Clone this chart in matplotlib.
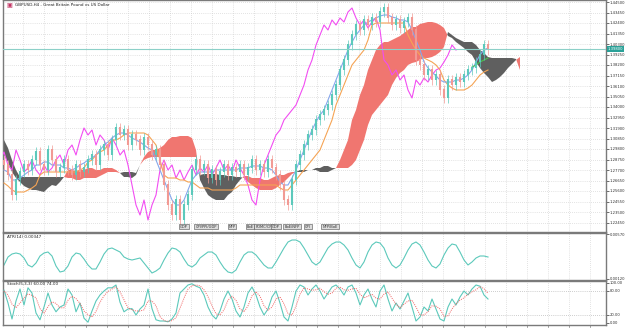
#!/usr/bin/env python

"""
GBPUSD H4 with Ichimoku cloud, ATR(14) and Stochastic(5,3,3) panels,
drawn in the look of a MetaTrader chart window.
"""

import matplotlib.pyplot as plt
import matplotlib.transforms as mtransforms
import numpy as np

# ---- data (one value per 4 px column) ----
closes = [
    1.282, 1.272, 1.252, 1.267, 1.275, 1.282, 1.277, 1.287, 1.295, 1.282,
    1.277, 1.297, 1.287, 1.275, 1.279, 1.287, 1.277, 1.272, 1.282, 1.275,
    1.279, 1.287, 1.292, 1.282, 1.297, 1.302, 1.292, 1.307, 1.319, 1.312,
    1.317, 1.302, 1.312, 1.307, 1.297, 1.309, 1.302, 1.292, 1.297, 1.282,
    1.262, 1.242, 1.232, 1.247, 1.227, 1.242, 1.252, 1.277, 1.287, 1.277,
    1.282, 1.269, 1.277, 1.267, 1.275, 1.282, 1.272, 1.279, 1.275, 1.282,
    1.272, 1.279, 1.287, 1.277, 1.282, 1.275, 1.287, 1.279, 1.272, 1.262,
    1.247, 1.242, 1.267, 1.282, 1.292, 1.302, 1.312, 1.317, 1.327, 1.332,
    1.337, 1.342, 1.352, 1.362, 1.377, 1.387, 1.402, 1.412, 1.422, 1.417,
    1.427, 1.422, 1.429, 1.425, 1.435, 1.439, 1.429, 1.422, 1.427, 1.419,
    1.425, 1.429, 1.417, 1.387, 1.382, 1.372, 1.377, 1.367, 1.372, 1.357,
    1.349, 1.367, 1.362, 1.369, 1.365, 1.372, 1.377, 1.379, 1.385, 1.392,
    1.402, 1.397,
]

tenkan = [
    1.277, 1.275, 1.267, 1.267, 1.269, 1.272, 1.275, 1.277, 1.282, 1.282,
    1.285, 1.285, 1.282, 1.282, 1.282, 1.279, 1.279, 1.277, 1.279, 1.282,
    1.284, 1.287, 1.289, 1.292, 1.297, 1.302, 1.305, 1.309, 1.312, 1.314,
    1.314, 1.312, 1.309, 1.307, 1.305, 1.302, 1.299, 1.297, 1.287, 1.277,
    1.267, 1.257, 1.247, 1.242, 1.242, 1.247, 1.257, 1.267, 1.272, 1.275,
    1.275, 1.275, 1.275, 1.277, 1.277, 1.277, 1.277, 1.277, 1.277, 1.279,
    1.279, 1.279, 1.281, 1.281, 1.281, 1.279, 1.279, 1.277, 1.272, 1.265,
    1.262, 1.262, 1.269, 1.277, 1.287, 1.297, 1.307, 1.317, 1.325, 1.332,
    1.337, 1.347, 1.357, 1.367, 1.377, 1.387, 1.397, 1.405, 1.412, 1.417,
    1.422, 1.425, 1.427, 1.429, 1.431, 1.432, 1.432, 1.430, 1.429, 1.427,
    1.427, 1.425, 1.417, 1.407, 1.397, 1.385, 1.379, 1.375, 1.371, 1.367,
    1.365, 1.365, 1.365, 1.367, 1.367, 1.369, 1.372, 1.377, 1.385, 1.392,
    1.397, 1.399,
]

kijun = [
    1.264, 1.261, 1.257, 1.255, 1.255, 1.255, 1.257, 1.259, 1.262, 1.272,
    1.275, 1.275, 1.275, 1.275, 1.275, 1.275, 1.275, 1.275, 1.275, 1.277,
    1.279, 1.285, 1.287, 1.292, 1.295, 1.297, 1.302, 1.307, 1.307, 1.309,
    1.312, 1.314, 1.314, 1.314, 1.314, 1.314, 1.312, 1.307, 1.302, 1.287,
    1.272, 1.269, 1.269, 1.269, 1.267, 1.267, 1.265, 1.265, 1.262, 1.259,
    1.259, 1.259, 1.257, 1.257, 1.257, 1.257, 1.257, 1.257, 1.259, 1.262,
    1.262, 1.262, 1.262, 1.262, 1.262, 1.262, 1.262, 1.262, 1.262, 1.259,
    1.257, 1.257, 1.262, 1.267, 1.272, 1.277, 1.282, 1.287, 1.292, 1.297,
    1.307, 1.317, 1.327, 1.342, 1.352, 1.362, 1.372, 1.382, 1.387, 1.392,
    1.397, 1.407, 1.422, 1.424, 1.424, 1.424, 1.424, 1.424, 1.424, 1.424,
    1.424, 1.412, 1.404, 1.397, 1.392, 1.389, 1.387, 1.385, 1.382, 1.377,
    1.367, 1.362, 1.359, 1.357, 1.357, 1.357, 1.359, 1.362, 1.367, 1.372,
    1.375, 1.377,
]

# short green line near the last bars
signal_line = [1.380, 1.382, 1.385, 1.387, 1.389]

# cloud spans, 8 columns longer than price (shifted forward)
span_a = [
    1.292, 1.285, 1.275, 1.269, 1.265, 1.261, 1.259, 1.257, 1.257, 1.256,
    1.255, 1.259, 1.262, 1.261, 1.265, 1.270, 1.277, 1.277, 1.276, 1.277,
    1.277, 1.279, 1.279, 1.277, 1.277, 1.279, 1.279, 1.279, 1.277, 1.274,
    1.270, 1.270, 1.269, 1.272, 1.282, 1.290, 1.295, 1.297, 1.297, 1.299,
    1.302, 1.307, 1.310, 1.310, 1.311, 1.311, 1.311, 1.309, 1.297, 1.267,
    1.259, 1.252, 1.249, 1.247, 1.247, 1.247, 1.252, 1.255, 1.262, 1.267,
    1.271, 1.271, 1.269, 1.269, 1.269, 1.267, 1.267, 1.269, 1.271, 1.272,
    1.272, 1.274, 1.275, 1.275, 1.275, 1.275, 1.277, 1.277, 1.277, 1.275,
    1.275, 1.275, 1.277, 1.279, 1.287, 1.297, 1.307, 1.327, 1.337, 1.352,
    1.362, 1.377, 1.387, 1.397, 1.402, 1.405, 1.405, 1.407, 1.409, 1.411,
    1.414, 1.417, 1.420, 1.420, 1.423, 1.424, 1.425, 1.425, 1.424, 1.422,
    1.419, 1.411, 1.409, 1.405, 1.402, 1.399, 1.395, 1.392, 1.385, 1.379,
    1.374, 1.370, 1.365, 1.367, 1.370, 1.374, 1.379, 1.383, 1.387, 1.390,
]
span_b = [
    1.307, 1.299, 1.287, 1.277, 1.270, 1.270, 1.270, 1.270, 1.270, 1.270,
    1.270, 1.270, 1.270, 1.270, 1.270, 1.270, 1.269, 1.269, 1.267, 1.267,
    1.269, 1.269, 1.269, 1.269, 1.271, 1.273, 1.275, 1.275, 1.275, 1.274,
    1.275, 1.275, 1.275, 1.274, 1.282, 1.287, 1.289, 1.290, 1.290, 1.290,
    1.290, 1.290, 1.290, 1.290, 1.290, 1.290, 1.290, 1.290, 1.290, 1.272,
    1.273, 1.273, 1.273, 1.273, 1.272, 1.272, 1.271, 1.271, 1.270, 1.270,
    1.269, 1.265, 1.262, 1.259, 1.257, 1.257, 1.257, 1.257, 1.259, 1.262,
    1.265, 1.269, 1.273, 1.275, 1.277, 1.277, 1.277, 1.277, 1.279, 1.279,
    1.281, 1.281, 1.279, 1.279, 1.279, 1.279, 1.279, 1.282, 1.287, 1.297,
    1.307, 1.322, 1.332, 1.337, 1.342, 1.347, 1.352, 1.362, 1.369, 1.374,
    1.377, 1.382, 1.384, 1.385, 1.387, 1.389, 1.389, 1.390, 1.392, 1.395,
    1.400, 1.415, 1.412, 1.409, 1.407, 1.405, 1.405, 1.405, 1.402, 1.397,
    1.394, 1.390, 1.389, 1.389, 1.389, 1.389, 1.389, 1.389, 1.388, 1.377,
]

atr = [
    0.0026, 0.0034, 0.0037, 0.0038, 0.0037, 0.0033, 0.0026, 0.0024, 0.0028, 0.0035,
    0.0038, 0.0039, 0.0035, 0.0025, 0.0019, 0.0020, 0.0025, 0.0034, 0.0038, 0.0037,
    0.0032, 0.0026, 0.0022, 0.0022, 0.0029, 0.0037, 0.0042, 0.0043, 0.0041, 0.0039,
    0.0034, 0.0032, 0.0031, 0.0032, 0.0033, 0.0028, 0.0023, 0.0018, 0.0020, 0.0023,
    0.0031, 0.0038, 0.0043, 0.0042, 0.0039, 0.0032, 0.0026, 0.0024, 0.0027, 0.0033,
    0.0036, 0.0039, 0.0039, 0.0036, 0.0029, 0.0023, 0.0019, 0.0018, 0.0021, 0.0029,
    0.0036, 0.0039, 0.0039, 0.0036, 0.0031, 0.0026, 0.0023, 0.0023, 0.0029, 0.0036,
    0.0043, 0.0049, 0.0051, 0.0051, 0.0049, 0.0043, 0.0036, 0.0029, 0.0026, 0.0029,
    0.0036, 0.0043, 0.0047, 0.0049, 0.0049, 0.0046, 0.0041, 0.0033, 0.0026, 0.0023,
    0.0029, 0.0039, 0.0046, 0.0049, 0.0048, 0.0043, 0.0033, 0.0026, 0.0023, 0.0026,
    0.0033, 0.0041, 0.0047, 0.0049, 0.0046, 0.0039, 0.0031, 0.0025, 0.0023, 0.0027,
    0.0036, 0.0043, 0.0047, 0.0046, 0.0039, 0.0031, 0.0026, 0.0029, 0.0033, 0.0035,
    0.0035, 0.0034,
]

stoch_main = [
    82, 50, 10, 55, 85, 45, 88, 75, 25, 8,
    40, 75, 45, 28, 40, 45, 85, 70, 28, 50,
    12, 2, 30, 55, 70, 80, 88, 88, 95, 52,
    28, 35, 36, 20, 35, 45, 85, 36, 8, 5,
    5, 3, 10, 25, 75, 85, 95, 98, 92, 88,
    70, 40, 20, 10, 30, 60, 80, 60, 30, 15,
    40, 75, 90, 70, 40, 20, 35, 65, 80, 50,
    15, 5, 40, 80, 95, 90, 70, 85, 95, 80,
    60, 75, 90, 95, 85, 70, 90, 95, 75, 45,
    70, 85, 60, 40, 80, 95, 60, 30, 50, 35,
    55, 75, 40, 5, 15, 40, 30, 60, 35, 10,
    5, 40, 60, 45, 65, 80, 70, 85, 95, 92,
    70, 60,
]
stoch_signal = [
    80, 70, 47, 38, 50, 62, 73, 69, 63, 36,
    24, 41, 53, 49, 38, 38, 57, 67, 61, 49,
    30, 21, 15, 29, 52, 68, 79, 85, 90, 78,
    58, 38, 33, 30, 30, 33, 55, 55, 43, 16,
    6, 4, 6, 13, 37, 62, 85, 93, 95, 93,
    83, 66, 43, 23, 20, 33, 57, 67, 57, 35,
    28, 43, 68, 78, 67, 43, 32, 40, 60, 65,
    48, 23, 20, 42, 72, 88, 85, 82, 83, 87,
    78, 72, 75, 87, 90, 83, 82, 85, 87, 72,
    63, 67, 72, 62, 60, 72, 78, 62, 47, 38,
    47, 55, 57, 40, 20, 20, 28, 43, 42, 35,
    17, 18, 35, 48, 57, 63, 72, 78, 83, 91,
    86, 74,
]

# event markers along the bottom of the price window
marker_bars = [45, 50.5, 57, 61.5, 65, 68, 72, 76, 81.5]
marker_text = ["GDP", "CPI/PPI/GDP", "NFP", "BoE", "FOMC/CPI", "GDP", "BoE/NFP", "CPI", "NFP/BoE"]

CHIKOU_SHIFT = 8
LAST_PRICE = 1.3980

BULL = '#5cc9bb'
BEAR = '#f29a94'
KUMO_UP = '#f07670'
KUMO_DN = '#5f5f5f'
GRID = '#c8c8c8'
FRAME = '#7a7a7a'
FS = 3.0
TFS = 2.7

W, H = 625, 328
fig = plt.figure(figsize=(W / 100, H / 100), dpi=100)
fig.patch.set_facecolor('white')


def panel(top, bottom):
    return fig.add_axes([3 / W, 1 - bottom / H, 603 / W, (bottom - top) / H])


ax = panel(0, 232)
ax_atr = panel(233, 280)
ax_sto = panel(281, 325)

x = np.arange(len(closes))
xc = np.arange(len(span_a))
grid_x = [(px - 4) / 4 for px in range(23, 606, 21)]

for a in (ax, ax_atr, ax_sto):
    a.set_xlim(-0.25, 150.5)
    a.set_xticks([])
    a.yaxis.tick_right()
    a.tick_params(axis='y', labelsize=TFS, length=2, width=0.5,
                  colors='#303030', pad=0.8)
    for s in a.spines.values():
        s.set_color(FRAME)
        s.set_linewidth(1.0)
    for gx in grid_x:
        a.axvline(gx, color=GRID, lw=0.5, ls=(0, (1, 2)), zorder=0)

# ---- price window ----
ymax, ymin = 1.447, 1.215
ax.set_ylim(ymin, ymax)
yt = [1.445 - 0.0105 * k for k in range(22)]
ax.set_yticks(yt)
ax.set_yticklabels(['{:.5f}'.format(v) for v in yt])
for v in yt:
    ax.axhline(v, color=GRID, lw=0.5, ls=(0, (1, 2)), zorder=0)

a_arr = np.array(span_a)
b_arr = np.array(span_b)
ax.fill_between(xc, a_arr, b_arr, where=a_arr >= b_arr, interpolate=True,
                color=KUMO_UP, lw=0, zorder=1)
ax.fill_between(xc, a_arr, b_arr, where=a_arr < b_arr, interpolate=True,
                color=KUMO_DN, lw=0, zorder=1)

ax.plot(x - CHIKOU_SHIFT, closes, color='#f24df2', lw=0.8, zorder=3)
ax.plot(x, kijun, color='#f5a455', lw=0.8, zorder=3)
ax.plot(x, tenkan, color='#86a6ec', lw=0.8, zorder=3)
ax.plot(x[-len(signal_line):], signal_line, color='#4cc24c', lw=0.8, zorder=3)

opens = [closes[0] + 0.004] + closes[:-1]
for i, (o, c) in enumerate(zip(opens, closes)):
    col = BULL if c >= o else BEAR
    lo, hi = min(o, c), max(o, c)
    ax.vlines(i, lo - 0.005, hi + 0.005, color=col, lw=0.5, zorder=4)
    ax.vlines(i, lo, hi + 0.0008, color=col, lw=1.5, zorder=4)

ax.axhline(LAST_PRICE, color='#8cd0c8', lw=0.8, zorder=5)
trans = mtransforms.blended_transform_factory(ax.transAxes, ax.transData)
ax.text(1.003, LAST_PRICE, '{:.5f}'.format(LAST_PRICE), transform=trans,
        fontsize=TFS, color='white', va='center', ha='left', zorder=6,
        bbox=dict(boxstyle='square,pad=0.15', fc='#2aa198', ec='none'))

for mb, mt in zip(marker_bars, marker_text):
    ax.text(mb, 1.2205, mt, fontsize=2.6, color='#303030', ha='center',
            va='center', zorder=6,
            bbox=dict(boxstyle='square,pad=0.25', fc='#dcdcdc', ec='#505050',
                      lw=0.4))

ax.text(0.006, 0.985, '\u25a3', transform=ax.transAxes, fontsize=4.5,
        color='#c03060', va='top', ha='left')
ax.text(0.02, 0.985, 'GBPUSD,H4 - Great Britain Pound vs US Dollar',
        transform=ax.transAxes, fontsize=FS, color='#202020', va='top')

# ---- ATR window ----
ax_atr.set_ylim(0.0011, 0.0058)
ax_atr.set_yticks([0.0057, 0.0012])
ax_atr.set_yticklabels(['0.00570', '0.00120'])
ax_atr.plot(x, atr, color=BULL, lw=0.8)
ax_atr.text(0.006, 0.96, 'ATR(14) 0.00347', transform=ax_atr.transAxes,
            fontsize=FS, color='#202020', va='top')

# ---- Stochastic window ----
ax_sto.set_ylim(-5, 105)
ax_sto.set_yticks([100, 80, 20, 0])
ax_sto.set_yticklabels(['100.00', '80.00', '20.00', '0.00'])
for lvl in (80, 20):
    ax_sto.axhline(lvl, color='#a0a0a0', lw=0.5, ls=(0, (1, 2)), zorder=0)
ax_sto.plot(x, stoch_main, color=BULL, lw=0.8, zorder=3)
ax_sto.plot(x, stoch_signal, color='#f06060', lw=0.7, ls=(0, (1, 1.2)),
            zorder=3)
ax_sto.text(0.006, 0.97, 'Stoch(5,3,3) 60.00 74.00',
            transform=ax_sto.transAxes, fontsize=FS, color='#202020', va='top')
for gx in grid_x:
    ax_sto.plot([gx, gx], [-5, -9], color=FRAME, lw=0.5, clip_on=False)

fig.savefig('out.png', dpi=100)
